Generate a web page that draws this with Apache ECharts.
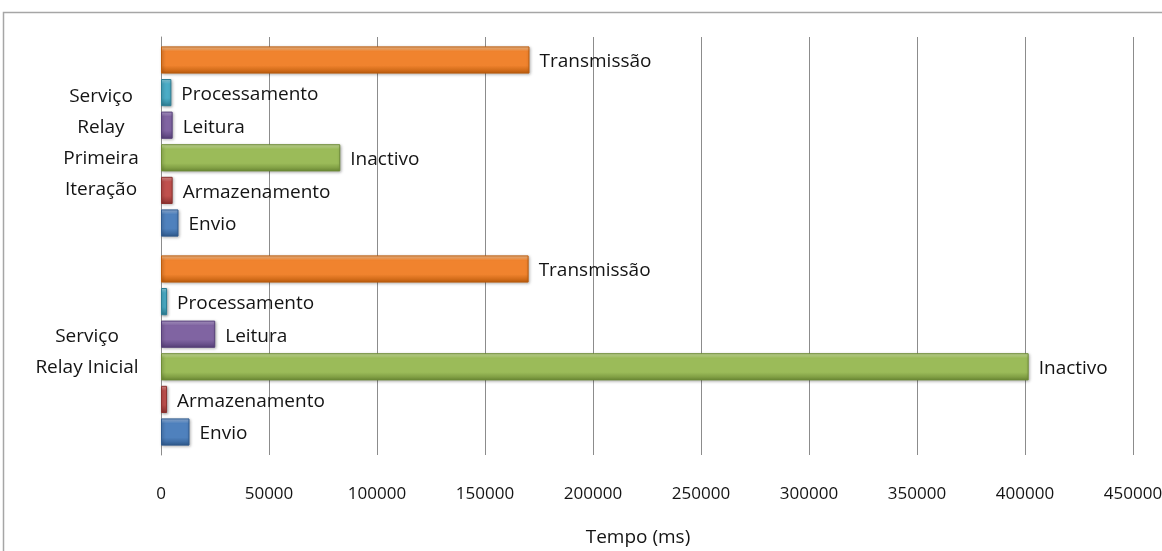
<!DOCTYPE html>
<html>
<head>
<meta charset="utf-8">
<script src="https://cdn.jsdelivr.net/npm/echarts@6/dist/echarts.min.js"></script>
<style>
  html, body { margin: 0; padding: 0; background: #ffffff; }
  #chart { width: 1162px; height: 551px; }
</style>
</head>
<body>
<div id="chart"></div>
<script>
// Services (first entry is drawn at the bottom of the vertical category axis)
const categories = ['Serviço\nRelay Inicial', 'Serviço\nRelay\nPrimeira\nIteração'];

// Time spent in each phase, in ms, per service
const envio         = [13200, 8100];
const armazenamento = [2800, 5400];
const inactivo      = [401700, 83000];
const leitura       = [25100, 5400];
const processamento = [2800, 4800];
const transmissao   = [170200, 170600];

const axisTitle = 'Tempo (ms)';
const xMax = 450000;
const xStep = 50000;

const FONT = '"Open Sans", "Noto Sans", sans-serif';

// Phase series, listed from the top of each group downwards, with light / base / dark tones
const phases = [
  { name: 'Transmissão',   data: transmissao,   tones: ['#FCC99A', '#F0832E', '#BD5C0C'] },
  { name: 'Processamento', data: processamento, tones: ['#93D6E8', '#4BACC6', '#2C7E94'] },
  { name: 'Leitura',       data: leitura,       tones: ['#B9A4D6', '#8064A2', '#57407A'] },
  { name: 'Inactivo',      data: inactivo,      tones: ['#D3E8A6', '#9BBB59', '#6E8C36'] },
  { name: 'Armazenamento', data: armazenamento, tones: ['#E49896', '#C0504D', '#8C3230'] },
  { name: 'Envio',         data: envio,         tones: ['#9DBDE6', '#4F81BD', '#2F5A8E'] }
];

function bevel(t) {
  return new echarts.graphic.LinearGradient(0, 0, 0, 1, [
    { offset: 0, color: t[0] },
    { offset: 0.18, color: t[1] },
    { offset: 0.7, color: t[1] },
    { offset: 1, color: t[2] }
  ]);
}

// Width of a multi-line label block, so its lines can be centred within it
const measureCtx = document.createElement('canvas').getContext('2d');
measureCtx.font = '19px ' + FONT;
function blockWidth(lines) {
  return Math.ceil(Math.max.apply(null, lines.map(l => measureCtx.measureText(l).width)));
}
const richStyles = {};
categories.forEach((c, i) => {
  richStyles['c' + i] = {
    width: blockWidth(c.split('\n')),
    align: 'center',
    fontFamily: FONT,
    fontSize: 19,
    lineHeight: 31,
    color: '#141414'
  };
});

const chart = echarts.init(document.getElementById('chart'), null, { renderer: 'canvas' });

chart.setOption({
  backgroundColor: '#ffffff',
  animation: false,
  graphic: [{
    type: 'rect',
    shape: { x: 3.5, y: 12.5, width: 1300, height: 700 },
    style: { fill: 'none', stroke: '#a6a6a6', lineWidth: 1.5 },
    silent: true,
    z: -10
  }],
  grid: { left: 161, right: 29, top: 37, bottom: 96, containLabel: false, outerBoundsMode: 'none' },
  xAxis: {
    type: 'value',
    min: 0,
    max: xMax,
    interval: xStep,
    name: axisTitle,
    nameLocation: 'middle',
    nameGap: 73,
    nameTextStyle: { fontFamily: FONT, fontSize: 19, color: '#141414', padding: [0, 18, 0, 0] },
    axisLine: { show: false },
    axisTick: { show: false },
    axisLabel: {
      fontFamily: FONT, fontSize: 17, color: '#141414', margin: 31,
      formatter: v => String(v)
    },
    splitLine: { show: true, lineStyle: { color: '#8c8c8c', width: 1 } }
  },
  yAxis: {
    type: 'category',
    data: categories,
    axisLine: { show: true, lineStyle: { color: '#8c8c8c', width: 1 } },
    axisTick: { show: false },
    axisLabel: {
      align: 'right',
      margin: 22,
      padding: [4, 0, 0, 0],
      formatter: (value, idx) => value.split('\n').map(l => '{c' + idx + '|' + l + '}').join('\n'),
      rich: richStyles
    },
    splitLine: { show: false }
  },
  series: phases.map(p => ({
    type: 'bar',
    name: p.name,
    data: p.data,
    barGap: '20%',
    barCategoryGap: '9%',
    itemStyle: {
      color: bevel(p.tones),
      borderColor: p.tones[2],
      borderWidth: 1,
      shadowBlur: 3,
      shadowColor: 'rgba(0,0,0,0.35)',
      shadowOffsetX: 1,
      shadowOffsetY: 1
    },
    label: {
      show: true,
      position: 'right',
      distance: 10,
      offset: [0, 2],
      formatter: '{a}',
      fontFamily: FONT,
      fontSize: 19,
      color: '#141414'
    }
  }))
});
</script>
</body>
</html>
